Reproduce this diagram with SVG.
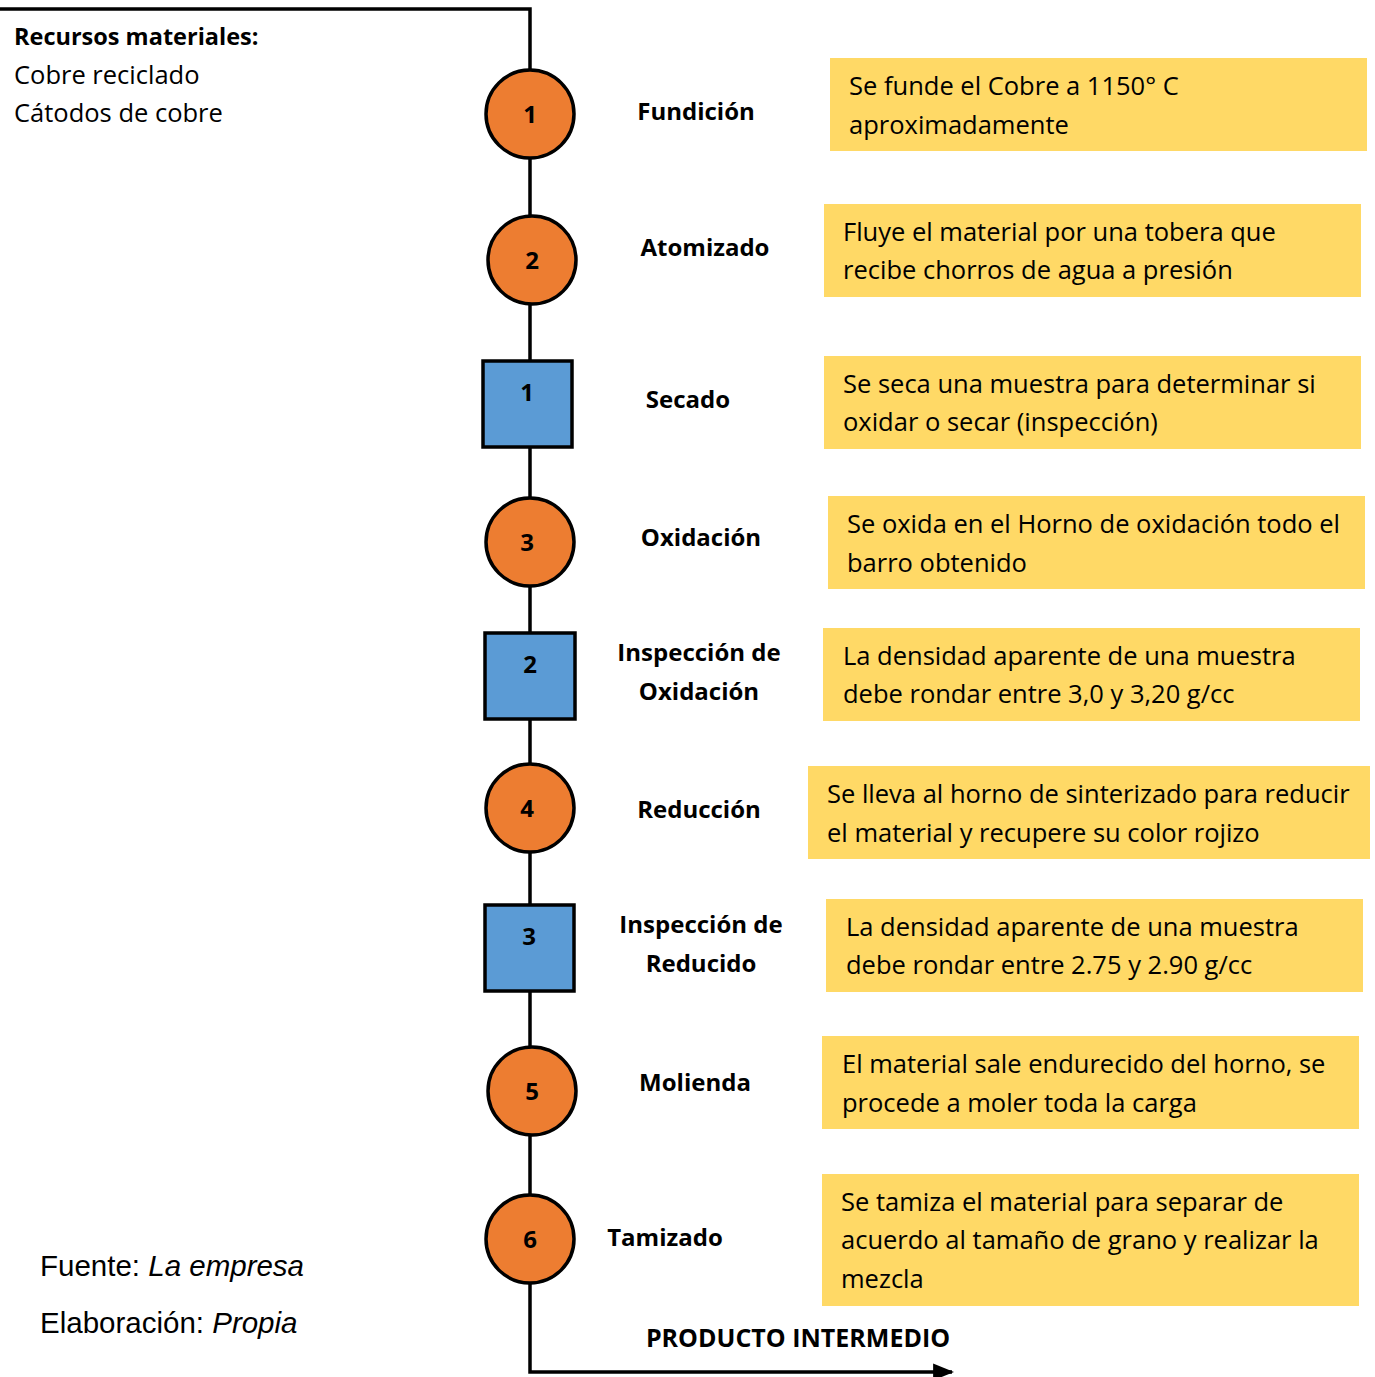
<svg xmlns="http://www.w3.org/2000/svg" width="1375" height="1377" viewBox="0 0 1375 1377">
  <style>
    .op { fill: #ED7D31; stroke: #000; stroke-width: 3.5; }
    .insp { fill: #5B9BD5; stroke: #000; stroke-width: 3.5; }
    .num { font-family: "Open Sans", "Noto Sans", sans-serif; font-weight: bold; font-size: 24px; fill: #000; text-anchor: middle; }
    .lbl { font-family: "Open Sans", "Noto Sans", sans-serif; font-weight: bold; font-size: 24px; fill: #000; text-anchor: middle; }
    .out { font-size: 25px; }
    .note { fill: #FFD966; }
    .desc { font-family: "Open Sans", "Noto Sans", sans-serif; font-size: 25.5px; fill: #000; }
    .res { font-family: "Open Sans", "Noto Sans", sans-serif; font-size: 25.5px; fill: #000; }
    .res.head { font-weight: bold; font-size: 23.5px; }
    .src { font-family: "Liberation Sans", Arial, sans-serif; font-size: 29.5px; fill: #000; }
    .flow { fill: none; stroke: #000; stroke-width: 3.5; }
  </style>
  <defs>
    <marker id="arrow" viewBox="0 0 10 10" refX="9" refY="5" markerWidth="6" markerHeight="6" markerUnits="strokeWidth" orient="auto">
      <path d="M0,1 L10,5 L0,9 Z" fill="#000"/>
    </marker>
  </defs>
  <rect width="1375" height="1377" fill="#fff"/>

  <!-- main flow line -->
  <g id="connectors">
    <path class="flow" d="M0,9 H530 V1372 H952" marker-end="url(#arrow)"/>
  </g>

  <!-- input resources -->
  <g id="recursos">
    <text class="res head" x="14" y="45">Recursos materiales:</text>
    <text class="res" x="14" y="84">Cobre reciclado</text>
    <text class="res" x="14" y="122">Cátodos de cobre</text>
  </g>

  <!-- steps -->
  <g id="op1">
    <circle class="op" cx="530" cy="114" r="44"/>
    <text class="num" x="530" y="123">1</text>
    <text class="lbl" x="696" y="120">Fundición</text>
  </g>
  <g id="op2">
    <circle class="op" cx="532" cy="260" r="44"/>
    <text class="num" x="532" y="269">2</text>
    <text class="lbl" x="705" y="256">Atomizado</text>
  </g>
  <g id="insp1">
    <rect class="insp" x="483" y="361" width="89" height="86"/>
    <text class="num" x="527" y="401">1</text>
    <text class="lbl" x="688" y="408">Secado</text>
  </g>
  <g id="op3">
    <circle class="op" cx="530" cy="542" r="44"/>
    <text class="num" x="527" y="551">3</text>
    <text class="lbl" x="701" y="546">Oxidación</text>
  </g>
  <g id="insp2">
    <rect class="insp" x="485" y="633" width="90" height="86"/>
    <text class="num" x="530" y="673">2</text>
    <text class="lbl" x="699" y="661">Inspección de</text>
    <text class="lbl" x="699" y="700">Oxidación</text>
  </g>
  <g id="op4">
    <circle class="op" cx="530" cy="808" r="44"/>
    <text class="num" x="527" y="817">4</text>
    <text class="lbl" x="699" y="818">Reducción</text>
  </g>
  <g id="insp3">
    <rect class="insp" x="485" y="905" width="89" height="86"/>
    <text class="num" x="529" y="945">3</text>
    <text class="lbl" x="701" y="933">Inspección de</text>
    <text class="lbl" x="701" y="972">Reducido</text>
  </g>
  <g id="op5">
    <circle class="op" cx="532" cy="1091" r="44"/>
    <text class="num" x="532" y="1100">5</text>
    <text class="lbl" x="695" y="1091">Molienda</text>
  </g>
  <g id="op6">
    <circle class="op" cx="530" cy="1239" r="44"/>
    <text class="num" x="530" y="1248">6</text>
    <text class="lbl" x="665" y="1246">Tamizado</text>
  </g>
  <g id="salida">
    <text class="lbl out" x="798" y="1347">PRODUCTO INTERMEDIO</text>
  </g>

  <!-- step descriptions -->
  <g id="nota1">
    <rect class="note" x="830" y="58" width="537" height="93"/>
    <text class="desc" x="849" y="95">Se funde el Cobre a 1150° C</text>
    <text class="desc" x="849" y="134">aproximadamente</text>
  </g>
  <g id="nota2">
    <rect class="note" x="824" y="204" width="537" height="93"/>
    <text class="desc" x="843" y="241">Fluye el material por una tobera que</text>
    <text class="desc" x="843" y="279">recibe chorros de agua a presión</text>
  </g>
  <g id="nota3">
    <rect class="note" x="824" y="356" width="537" height="93"/>
    <text class="desc" x="843" y="393">Se seca una muestra para determinar si</text>
    <text class="desc" x="843" y="431">oxidar o secar (inspección)</text>
  </g>
  <g id="nota4">
    <rect class="note" x="828" y="496" width="537" height="93"/>
    <text class="desc" x="847" y="533">Se oxida en el Horno de oxidación todo el</text>
    <text class="desc" x="847" y="572">barro obtenido</text>
  </g>
  <g id="nota5">
    <rect class="note" x="823" y="628" width="537" height="93"/>
    <text class="desc" x="843" y="665">La densidad aparente de una muestra</text>
    <text class="desc" x="843" y="703">debe rondar entre 3,0 y 3,20 g/cc</text>
  </g>
  <g id="nota6">
    <rect class="note" x="808" y="766" width="562" height="93"/>
    <text class="desc" x="827" y="803">Se lleva al horno de sinterizado para reducir</text>
    <text class="desc" x="827" y="842">el material y recupere su color rojizo</text>
  </g>
  <g id="nota7">
    <rect class="note" x="826" y="899" width="537" height="93"/>
    <text class="desc" x="846" y="936">La densidad aparente de una muestra</text>
    <text class="desc" x="846" y="974">debe rondar entre 2.75 y 2.90 g/cc</text>
  </g>
  <g id="nota8">
    <rect class="note" x="822" y="1036" width="537" height="93"/>
    <text class="desc" x="842" y="1073">El material sale endurecido del horno, se</text>
    <text class="desc" x="842" y="1112">procede a moler toda la carga</text>
  </g>
  <g id="nota9">
    <rect class="note" x="822" y="1174" width="537" height="132"/>
    <text class="desc" x="841" y="1211">Se tamiza el material para separar de</text>
    <text class="desc" x="841" y="1249">acuerdo al tamaño de grano y realizar la</text>
    <text class="desc" x="841" y="1288">mezcla</text>
  </g>

  <!-- source notes -->
  <g id="fuente">
    <text class="src" x="40" y="1276">Fuente: <tspan font-style="italic">La empresa</tspan></text>
    <text class="src" x="40" y="1333">Elaboración: <tspan font-style="italic">Propia</tspan></text>
  </g>
</svg>
